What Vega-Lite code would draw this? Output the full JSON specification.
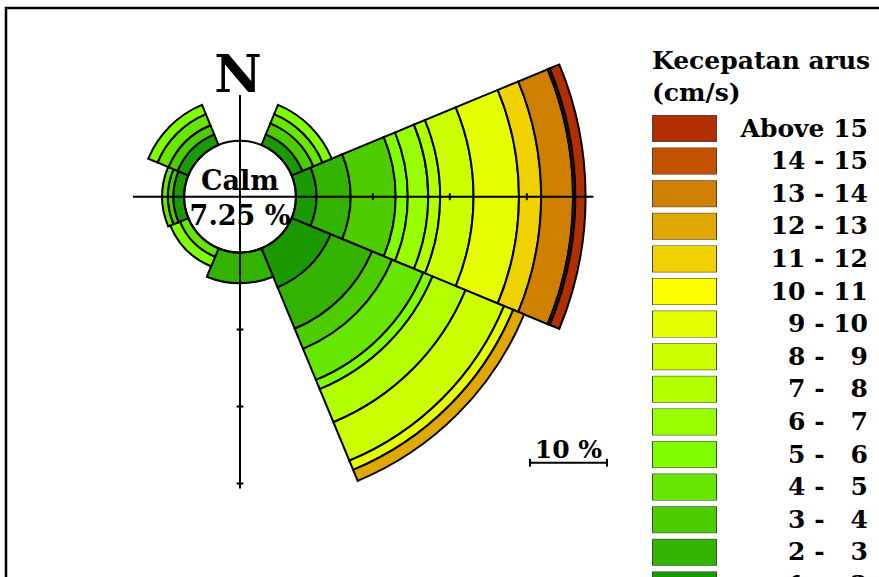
{
  "$schema": "https://vega.github.io/schema/vega-lite/v6.json",
  "width": 876,
  "height": 572,
  "padding": {"left": 6, "top": 8, "right": -3, "bottom": -3},
  "autosize": {"type": "none"},
  "background": "white",
  "config": {"view": {"stroke": "black", "strokeWidth": 2.5}, "font": "DejaVu Serif"},
  "datasets": {
    "sectors": [
      {"dir": "E", "from": 67.5, "to": 112.5, "speed": "1 - \u20072", "lo": 0, "hi": 2.67},
      {"dir": "E", "from": 67.5, "to": 112.5, "speed": "2 - \u20073", "lo": 2.67, "hi": 7.12},
      {"dir": "E", "from": 67.5, "to": 112.5, "speed": "3 - \u20074", "lo": 7.12, "hi": 12.97},
      {"dir": "E", "from": 67.5, "to": 112.5, "speed": "5 - \u20076", "lo": 12.97, "hi": 14.54},
      {"dir": "E", "from": 67.5, "to": 112.5, "speed": "6 - \u20077", "lo": 14.54, "hi": 17.2},
      {"dir": "E", "from": 67.5, "to": 112.5, "speed": "7 - \u20078", "lo": 17.2, "hi": 18.75},
      {"dir": "E", "from": 67.5, "to": 112.5, "speed": "8 - \u20079", "lo": 18.75, "hi": 23.08},
      {"dir": "E", "from": 67.5, "to": 112.5, "speed": "9 - 10", "lo": 23.08, "hi": 28.98},
      {"dir": "E", "from": 67.5, "to": 112.5, "speed": "11 - 12", "lo": 28.98, "hi": 31.86},
      {"dir": "E", "from": 67.5, "to": 112.5, "speed": "13 - 14", "lo": 31.86, "hi": 36.0},
      {"dir": "E", "from": 67.5, "to": 112.5, "speed": "14 - 15", "lo": 36.0, "hi": 36.3},
      {"dir": "E", "from": 67.5, "to": 112.5, "speed": "Above 15", "lo": 36.3, "hi": 37.63},
      {"dir": "SE", "from": 112.5, "to": 157.5, "speed": "1 - \u20072", "lo": 0, "hi": 5.5},
      {"dir": "SE", "from": 112.5, "to": 157.5, "speed": "2 - \u20073", "lo": 5.5, "hi": 11.31},
      {"dir": "SE", "from": 112.5, "to": 157.5, "speed": "3 - \u20074", "lo": 11.31, "hi": 14.14},
      {"dir": "SE", "from": 112.5, "to": 157.5, "speed": "4 - \u20075", "lo": 14.14, "hi": 18.51},
      {"dir": "SE", "from": 112.5, "to": 157.5, "speed": "5 - \u20076", "lo": 18.51, "hi": 19.81},
      {"dir": "SE", "from": 112.5, "to": 157.5, "speed": "7 - \u20078", "lo": 19.81, "hi": 24.45},
      {"dir": "SE", "from": 112.5, "to": 157.5, "speed": "8 - \u20079", "lo": 24.45, "hi": 29.86},
      {"dir": "SE", "from": 112.5, "to": 157.5, "speed": "9 - 10", "lo": 29.86, "hi": 31.15},
      {"dir": "SE", "from": 112.5, "to": 157.5, "speed": "12 - 13", "lo": 31.15, "hi": 32.69},
      {"dir": "S", "from": 157.5, "to": 202.5, "speed": "2 - \u20073", "lo": 0, "hi": 4.0},
      {"dir": "SW", "from": 202.5, "to": 247.5, "speed": "4 - \u20075", "lo": 0, "hi": 1.2},
      {"dir": "SW", "from": 202.5, "to": 247.5, "speed": "5 - \u20076", "lo": 1.2, "hi": 2.55},
      {"dir": "W", "from": 247.5, "to": 292.5, "speed": "1 - \u20072", "lo": 0, "hi": 1.4},
      {"dir": "W", "from": 247.5, "to": 292.5, "speed": "3 - \u20074", "lo": 1.4, "hi": 2.1},
      {"dir": "W", "from": 247.5, "to": 292.5, "speed": "4 - \u20075", "lo": 2.1, "hi": 2.85},
      {"dir": "NW", "from": 292.5, "to": 337.5, "speed": "1 - \u20072", "lo": 0, "hi": 1.52},
      {"dir": "NW", "from": 292.5, "to": 337.5, "speed": "3 - \u20074", "lo": 1.52, "hi": 2.8},
      {"dir": "NW", "from": 292.5, "to": 337.5, "speed": "4 - \u20075", "lo": 2.8, "hi": 4.35},
      {"dir": "NW", "from": 292.5, "to": 337.5, "speed": "5 - \u20076", "lo": 4.35, "hi": 5.65},
      {"dir": "NE", "from": 22.5, "to": 67.5, "speed": "1 - \u20072", "lo": 0, "hi": 1.52},
      {"dir": "NE", "from": 22.5, "to": 67.5, "speed": "3 - \u20074", "lo": 1.52, "hi": 3.06},
      {"dir": "NE", "from": 22.5, "to": 67.5, "speed": "4 - \u20075", "lo": 3.06, "hi": 4.35},
      {"dir": "NE", "from": 22.5, "to": 67.5, "speed": "5 - \u20076", "lo": 4.35, "hi": 5.65}
    ],
    "lines": [
      {"part": "axis", "x1": -13.9, "x2": 45.9, "y1": 0, "y2": 0},
      {"part": "axis", "x1": 0, "x2": 0, "y1": 13.2, "y2": -37.9},
      {"part": "tick", "x1": 17.25, "x2": 17.25, "y1": 0.45, "y2": -0.45},
      {"part": "tick", "x1": 27.25, "x2": 27.25, "y1": 0.45, "y2": -0.45},
      {"part": "tick", "x1": 37.25, "x2": 37.25, "y1": 0.45, "y2": -0.45},
      {"part": "tick", "x1": -0.45, "x2": 0.45, "y1": -17.25, "y2": -17.25},
      {"part": "tick", "x1": -0.45, "x2": 0.45, "y1": -27.25, "y2": -27.25},
      {"part": "tick", "x1": -0.45, "x2": 0.45, "y1": -37.25, "y2": -37.25},
      {"part": "scalebar", "x1": 37.66, "x2": 47.66, "y1": -34.55, "y2": -34.55},
      {"part": "scalebar", "x1": 37.66, "x2": 37.66, "y1": -34.05, "y2": -35.05},
      {"part": "scalebar", "x1": 47.66, "x2": 47.66, "y1": -34.05, "y2": -35.05}
    ],
    "calm": [{"label": "Calm", "value": "7.25 %"}]
  },
  "layer": [
    {
      "data": {"name": "sectors"},
      "mark": {"type": "arc", "stroke": "black", "strokeWidth": 2, "strokeJoin": "miter"},
      "encoding": {
        "x": {"datum": 0, "type": "quantitative", "scale": {"domain": [-30.39, 83.377], "nice": false, "zero": false}, "axis": null},
        "y": {"datum": 0, "type": "quantitative", "scale": {"domain": [-49.78, 24.506], "nice": false, "zero": false}, "axis": null},
        "theta": {"field": "from", "type": "quantitative", "stack": null, "scale": {"type": "linear", "domain": [0, 360], "range": [0, 6.283185307179586]}},
        "theta2": {"field": "to"},
        "radius": {"field": "hi", "type": "quantitative", "scale": {"type": "linear", "domain": [0, 40], "range": [55.825, 363.825], "zero": false, "nice": false}},
        "radius2": {"field": "lo"},
        "color": {
          "field": "speed",
          "type": "nominal",
          "scale": {
            "domain": ["Above 15", "14 - 15", "13 - 14", "12 - 13", "11 - 12", "10 - 11", "9 - 10", "8 - \u20079", "7 - \u20078", "6 - \u20077", "5 - \u20076", "4 - \u20075", "3 - \u20074", "2 - \u20073", "1 - \u20072"],
            "range": ["#B02E00", "#C25200", "#D08000", "#E0A800", "#F0D200", "#FFFF00", "#E6FF00", "#CCFF00", "#B2FF00", "#99FF00", "#80FF00", "#66E600", "#4DCC00", "#33B200", "#1A9900"]
          },
          "legend": {
            "orient": "none",
            "legendX": 646,
            "legendY": 41,
            "padding": 0,
            "title": ["Kecepatan arus", "(cm/s)"],
            "titleFont": "DejaVu Serif",
            "titleFontSize": 25,
            "titleFontWeight": "bold",
            "titleColor": "black",
            "titleLineHeight": 32,
            "titlePadding": 9,
            "titleLimit": 400,
            "symbolType": "M-1,-0.42L1,-0.42L1,0.42L-1,0.42Z",
            "symbolSize": 4096,
            "symbolStrokeColor": "#444444",
            "symbolStrokeWidth": 1,
            "symbolOpacity": 1,
            "clipHeight": 27,
            "rowPadding": 5.6,
            "labelFont": "DejaVu Serif",
            "labelFontSize": 25,
            "labelFontWeight": "bold",
            "labelColor": "black",
            "labelAlign": "right",
            "labelBaseline": "middle",
            "labelOffset": 151,
            "labelLimit": 300
          }
        }
      }
    },
    {
      "data": {"name": "lines"},
      "mark": {"type": "rule", "stroke": "black", "strokeWidth": 2},
      "encoding": {
        "x": {"field": "x1", "type": "quantitative", "scale": {"domain": [-30.39, 83.377], "nice": false, "zero": false}, "axis": null},
        "x2": {"field": "x2"},
        "y": {"field": "y1", "type": "quantitative", "scale": {"domain": [-49.78, 24.506], "nice": false, "zero": false}, "axis": null},
        "y2": {"field": "y2"}
      }
    },
    {
      "data": {"name": "calm"},
      "mark": {"type": "arc", "fill": "white", "stroke": "black", "strokeWidth": 2},
      "encoding": {
        "x": {"datum": 0, "type": "quantitative"},
        "y": {"datum": 0, "type": "quantitative"},
        "theta": {"datum": 0, "type": "quantitative"},
        "theta2": {"datum": 360},
        "radius": {"datum": 0, "type": "quantitative"}
      }
    },
    {
      "data": {"name": "calm"},
      "mark": {"type": "text", "font": "DejaVu Serif", "fontWeight": "bold", "fontSize": 27, "align": "center", "baseline": "alphabetic", "dy": -6.7, "color": "black"},
      "encoding": {
        "x": {"datum": 0, "type": "quantitative"},
        "y": {"datum": 0, "type": "quantitative"},
        "text": {"field": "label"}
      }
    },
    {
      "data": {"name": "calm"},
      "mark": {"type": "text", "font": "DejaVu Serif", "fontWeight": "bold", "fontSize": 27, "align": "center", "baseline": "alphabetic", "dy": 28, "color": "black"},
      "encoding": {
        "x": {"datum": 0, "type": "quantitative"},
        "y": {"datum": 0, "type": "quantitative"},
        "text": {"field": "value"}
      }
    },
    {
      "data": {"values": [{"t": "N"}]},
      "mark": {"type": "text", "font": "DejaVu Serif", "fontWeight": "bold", "fontSize": 52, "align": "center", "baseline": "alphabetic", "dy": -104.7, "dx": -2, "color": "black"},
      "encoding": {
        "x": {"datum": 0, "type": "quantitative"},
        "y": {"datum": 0, "type": "quantitative"},
        "text": {"field": "t"}
      }
    },
    {
      "data": {"values": [{"t": "10 %", "x": 42.66, "y": -34.55}]},
      "mark": {"type": "text", "font": "DejaVu Serif", "fontWeight": "bold", "fontSize": 25, "align": "center", "baseline": "alphabetic", "dy": -5, "color": "black"},
      "encoding": {
        "x": {"field": "x", "type": "quantitative"},
        "y": {"field": "y", "type": "quantitative"},
        "text": {"field": "t"}
      }
    }
  ]
}
